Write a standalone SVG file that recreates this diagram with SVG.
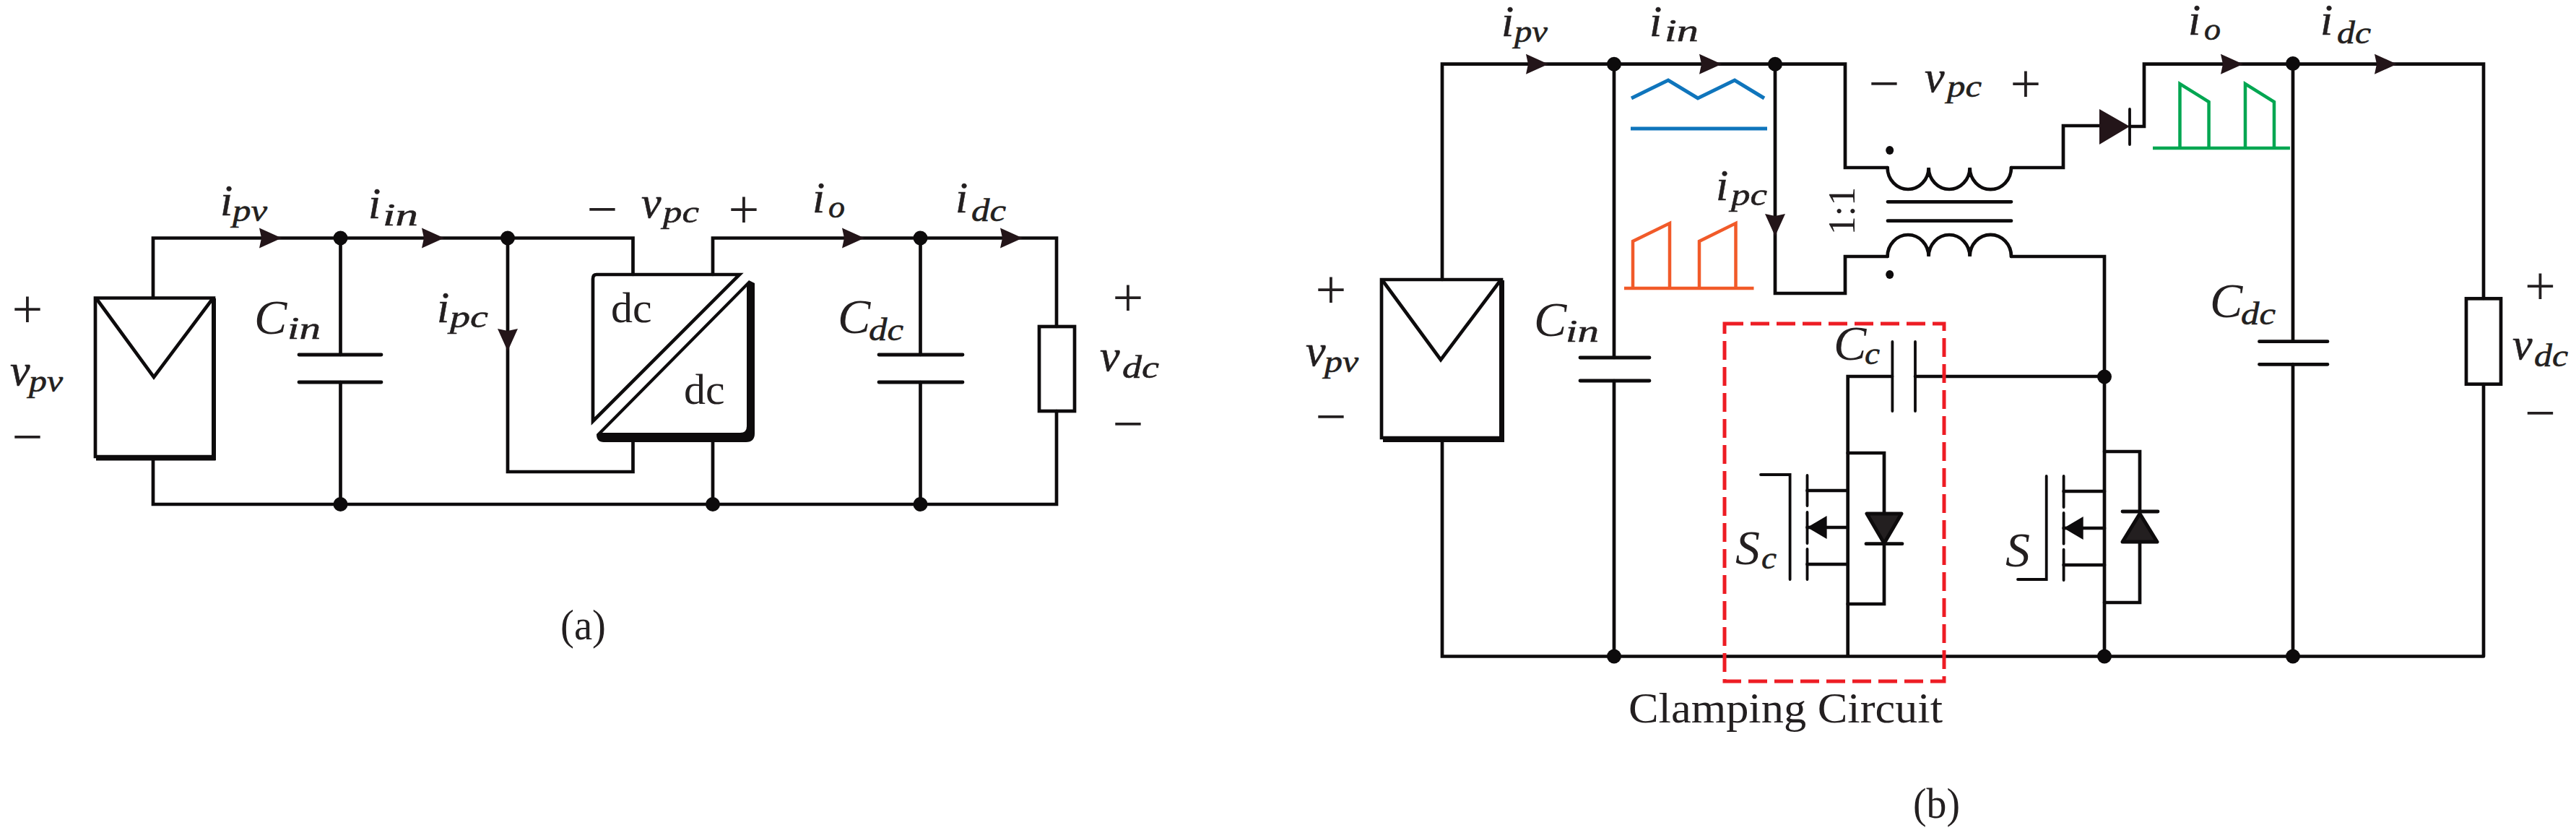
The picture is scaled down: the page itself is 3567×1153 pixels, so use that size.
<svg xmlns="http://www.w3.org/2000/svg" width="3567" height="1153" viewBox="0 0 3567 1153">
<style>
text{font-family:"Liberation Serif","Times New Roman",serif;fill:#231f20}
.m{font-style:italic;font-size:62px;stroke:#231f20;stroke-width:.6}
.c{font-style:italic;font-size:68px}
.s{font-style:italic;font-size:44px;stroke:#231f20;stroke-width:.6}
.r{font-size:60px}
.pm{font-size:76px;text-anchor:middle}
.w{fill:none;stroke:#0d0b0c;stroke-width:4.7;stroke-linejoin:miter;stroke-linecap:round}
.t{fill:none;stroke:#0d0b0c;stroke-width:3.8;stroke-linecap:round}
.p{fill:none;stroke:#0d0b0c;stroke-width:4.8;stroke-linecap:round}
.f{fill:#0d0b0c;stroke:none}
.a{fill:#231519;stroke:none}
.d{fill:#231f20;stroke:#0d0b0c;stroke-width:5;stroke-linejoin:round}
.blue{fill:none;stroke:#0f75bc;stroke-width:5}
.or{fill:none;stroke:#f15a29;stroke-width:4.500}
.gr{fill:none;stroke:#00a651;stroke-width:4.500}
.box{fill:none;stroke:#ed1c24;stroke-width:5;stroke-dasharray:26 10}
</style>
<defs>
<path id="ar" d="M0 0L-31 -14L-28 0L-31 14Z"/>
<circle id="dot" r="10"/>
</defs>
<rect width="3567" height="1153" fill="#fff"/>

<g id="connectors">
<path class="w" d="M212 412V329.5H876.5V380M987 380V329.5H1463V452M1463 569V698H212V635M471.5 329.5V491M471.5 529V698M703 329.5V653H876.5V612M987 612V698M1274.5 329.5V491M1274.5 529V698"/>
<path class="w" d="M1997 387V88.7H2555V232H2613.6M2458 88.7V406H2555V355H2613.6M2235 88.7V495M2235 527V908.5M1997 611V908.5H3439M2785 232H2857V174H2907M2949 175H2969V88.7H3439V413M3439 532V908.5M3175 88.7V472M3175 504V908.5M2785 355H2914V908.5M2652 521H2914M2620 521H2558.7V908.5"/>
<path class="w" d="M2558.7 627H2609V711M2609 752V836H2558.7M2914 625H2963V708M2963 750V834H2914"/>
<path class="w" d="M2502.5 679H2558.7M2502.5 730H2558.7M2502.5 781H2558.7M2857.6 680H2914M2857.6 731H2914M2857.6 782H2914"/>
</g>

<g id="arrows" class="a">
<use href="#ar" x="390" y="329.5"/><use href="#ar" x="615" y="329.5"/>
<use href="#ar" x="1197" y="329.5"/><use href="#ar" x="1416" y="329.5"/>
<use href="#ar" transform="translate(703 486) rotate(90)"/>
<use href="#ar" x="2144" y="88.7"/><use href="#ar" x="2384" y="88.7"/>
<use href="#ar" x="3106" y="88.7"/><use href="#ar" x="3319" y="88.7"/>
<use href="#ar" transform="translate(2458 327) rotate(90)"/>
</g>

<g id="junctions" class="f">
<use href="#dot" x="471.5" y="329.5"/><use href="#dot" x="703" y="329.5"/><use href="#dot" x="1274.5" y="329.5"/>
<use href="#dot" x="471.5" y="698"/><use href="#dot" x="987" y="698"/><use href="#dot" x="1274.5" y="698"/>
<use href="#dot" x="2235" y="88.7"/><use href="#dot" x="2458" y="88.7"/><use href="#dot" x="3175" y="88"/>
<use href="#dot" x="2235" y="908.5"/><use href="#dot" x="2914" y="908.5"/><use href="#dot" x="3175" y="908.5"/>
<use href="#dot" x="2914" y="521.5"/>
</g>

<g id="pv-a">
<path class="w" d="M132 412.5H296V632H132Z"/>
<path class="f" d="M133 630H298.500V637.500H133ZM293 413H299V637H293Z"/>
<path class="w" d="M134 414L213 522L294 414"/>
<text class="pm" x="38" y="453">+</text><text class="pm" x="38" y="630">−</text>
<text class="m" x="14" y="533">v<tspan class="s" x="40" y="542" textLength="47" lengthAdjust="spacingAndGlyphs">pv</tspan></text>
</g>
<g id="cin-a">
<path class="p" d="M414 491H528M414 529H528"/>
<text class="c" x="352" y="462">C<tspan class="s" x="398" y="469" textLength="46" lengthAdjust="spacingAndGlyphs">in</tspan></text>
</g>
<g id="dcdc-a">
<path class="w" d="M826 380H1024L821 583V386Q821 380 826 380Z"/>
<path class="f" fill-rule="evenodd" d="M1037 388L1045 392V600Q1045 612 1033 612H836Q826 612 826 601ZM1034 397L834 599H1025Q1034 599 1034 590Z"/>
<text class="r" x="846" y="446">dc</text><text class="r" x="947" y="559">dc</text>
</g>
<g id="cdc-a">
<path class="p" d="M1217 491H1333M1217 529H1333"/>
<text class="c" x="1160" y="461">C<tspan class="s" x="1203" y="471" textLength="48" lengthAdjust="spacingAndGlyphs">dc</tspan></text>
</g>
<g id="load-a">
<rect class="w" x="1439" y="452" width="49" height="117"/>
<text class="pm" x="1562" y="437">+</text><text class="pm" x="1562" y="612">−</text>
<text class="m" x="1523" y="513">v<tspan class="s" x="1554" y="523" textLength="51" lengthAdjust="spacingAndGlyphs">dc</tspan></text>
</g>
<g id="labels-a">
<text class="m" x="305" y="298">i<tspan class="s" x="322" y="306" textLength="48" lengthAdjust="spacingAndGlyphs">pv</tspan></text>
<text class="m" x="510" y="302">i<tspan class="s" x="530" y="312" textLength="49" lengthAdjust="spacingAndGlyphs">in</tspan></text>
<text class="m" x="605" y="446">i<tspan class="s" x="623" y="453" textLength="53" lengthAdjust="spacingAndGlyphs">pc</tspan></text>
<text class="pm" x="834" y="315">−</text><text class="pm" x="1030" y="315">+</text>
<text class="m" x="888" y="301">v<tspan class="s" x="918" y="308" textLength="50" lengthAdjust="spacingAndGlyphs">pc</tspan></text>
<text class="m" x="1125" y="294">i<tspan class="s" x="1147" y="301" textLength="23" lengthAdjust="spacingAndGlyphs">o</tspan></text>
<text class="m" x="1323" y="294">i<tspan class="s" x="1345" y="306" textLength="48" lengthAdjust="spacingAndGlyphs">dc</tspan></text>
<text class="r" x="776" y="885" textLength="63" lengthAdjust="spacingAndGlyphs">(a)</text>
</g>

<g id="pv-b">
<path class="w" d="M1913 387H2079V606H1913Z"/>
<path class="f" d="M1915 605H2083V612H1915ZM2076 388H2083V612H2076Z"/>
<path class="w" d="M1915 389L1995 498L2077 389"/>
<text class="pm" x="1843" y="426">+</text><text class="pm" x="1843" y="602">−</text>
<text class="m" x="1808" y="506">v<tspan class="s" x="1834" y="515" textLength="47" lengthAdjust="spacingAndGlyphs">pv</tspan></text>
</g>
<g id="cin-b">
<path class="p" d="M2188 495H2284M2188 527H2284"/>
<text class="c" x="2124" y="465">C<tspan class="s" x="2168" y="473" textLength="46" lengthAdjust="spacingAndGlyphs">in</tspan></text>
</g>
<g id="wave-in">
<path class="blue" d="M2259 136L2310 111L2351 136L2402 111L2443 136M2258 178H2447"/>
</g>
<g id="wave-pc">
<path class="or" d="M2261 399V334L2312 309V399M2353 399V334L2403.500 309V399M2249 399H2428.500"/>
</g>
<g id="wave-o">
<path class="gr" d="M3018.500 205V116L3058.600 141V205M3109 205V116L3149 141V205"/>
<path class="gr" stroke-width="5.500" d="M2981 205H3171"/>
</g>
<g id="transformer">
<path class="w" d="M2613.600 232A28.500 30 0 0 0 2670.600 232A28.500 30 0 0 0 2727.600 232A28.500 30 0 0 0 2785 232"/>
<path class="w" d="M2613.600 355A28.500 30 0 0 1 2670.600 355A28.500 30 0 0 1 2727.600 355A28.500 30 0 0 1 2785 355"/>
<path class="p" d="M2614 279.300H2785M2614 305.700H2785"/>
<ellipse class="f" cx="2616.700" cy="208" rx="5.500" ry="6"/><ellipse class="f" cx="2616.700" cy="380" rx="5.500" ry="6"/>
<text class="r" transform="translate(2568 292) rotate(-90)" text-anchor="middle" style="font-size:52px">1:1</text>
</g>
<g id="diode-o">
<path class="a" d="M2907 151L2949 175L2907 200Z"/>
<path class="t" d="M2949 151V200"/>
</g>
<g id="cdc-b">
<path class="p" d="M3128.500 472.700H3223M3128.500 504.300H3223"/>
<text class="c" x="3060" y="439">C<tspan class="s" x="3103" y="449" textLength="48" lengthAdjust="spacingAndGlyphs">dc</tspan></text>
</g>
<g id="load-b">
<rect class="w" x="3415" y="413.300" width="48" height="118.400"/>
<text class="pm" x="3517.500" y="421">+</text><text class="pm" x="3517.500" y="597">−</text>
<text class="m" x="3479" y="497">v<tspan class="s" x="3509" y="507" textLength="47" lengthAdjust="spacingAndGlyphs">dc</tspan></text>
</g>
<g id="cc">
<path class="t" d="M2620.400 473V569M2652 473V569"/>
<text class="c" x="2539" y="498">C<tspan class="s" x="2582" y="504" textLength="21" lengthAdjust="spacingAndGlyphs">c</tspan></text>
</g>
<g id="sc">
<path class="t" d="M2438 657H2478.600V802M2502.500 658V700M2502.500 709V752M2502.500 760V802"/>
<path class="f" d="M2502.500 730L2529.600 714V746Z"/>
<path class="d" d="M2585 711H2633L2609 752Z"/>
<path class="p" d="M2584 752.700H2634"/>
<text class="c" x="2403" y="781">S<tspan class="s" x="2439" y="787" textLength="21" lengthAdjust="spacingAndGlyphs">c</tspan></text>
</g>
<g id="s">
<path class="t" d="M2794 802H2833.700V659M2857.600 659V702M2857.600 710V752.700M2857.600 760.700V803"/>
<path class="f" d="M2857.600 731L2884.700 715V747Z"/>
<path class="d" d="M2963 711L2987 750H2939Z"/>
<path class="p" d="M2939 708H2988"/>
<text class="c" x="2777" y="784">S</text>
</g>
<g id="clamp">
<path class="box" d="M2388 448H2692V943H2388Z"/>
<text class="r" x="2255" y="1000" textLength="435" lengthAdjust="spacingAndGlyphs">Clamping Circuit</text>
</g>
<g id="labels-b">
<text class="m" x="2079" y="50">i<tspan class="s" x="2097" y="58" textLength="46" lengthAdjust="spacingAndGlyphs">pv</tspan></text>
<text class="m" x="2284" y="50">i<tspan class="s" x="2305" y="57" textLength="47" lengthAdjust="spacingAndGlyphs">in</tspan></text>
<text class="m" x="2376" y="277">i<tspan class="s" x="2397" y="284" textLength="50" lengthAdjust="spacingAndGlyphs">pc</tspan></text>
<text class="pm" x="2609" y="141">−</text><text class="pm" x="2805" y="141">+</text>
<text class="m" x="2665" y="127">v<tspan class="s" x="2696" y="134" textLength="48" lengthAdjust="spacingAndGlyphs">pc</tspan></text>
<text class="m" x="3030" y="48">i<tspan class="s" x="3052" y="55" textLength="23" lengthAdjust="spacingAndGlyphs">o</tspan></text>
<text class="m" x="3213" y="48">i<tspan class="s" x="3236" y="60" textLength="47" lengthAdjust="spacingAndGlyphs">dc</tspan></text>
<text class="r" x="2649" y="1132" textLength="65" lengthAdjust="spacingAndGlyphs">(b)</text>
</g>
</svg>
